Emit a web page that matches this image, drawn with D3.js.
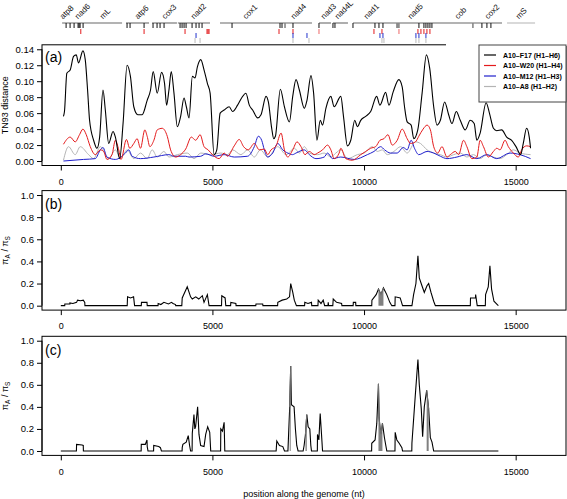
<!DOCTYPE html>
<html><head><meta charset="utf-8">
<script src="https://cdn.jsdelivr.net/npm/d3@7"></script>
<style>body{margin:0;background:#fff}svg{display:block;font-family:"Liberation Sans",Arial,Helvetica,sans-serif}</style>
</head><body><svg id="c" width="567" height="499"></svg>
<script>
// ---------- data ----------
const xTicks = [0, 5000, 10000, 15000];
const distTicks = [0, 0.02, 0.04, 0.06, 0.08, 0.10, 0.12, 0.14];
const ratioTicks = [0, 0.2, 0.4, 0.6, 0.8, 1.0];
const seriesNames = ["A10\u2013F17 (H1\u2013H6)", "A10\u2013W20 (H1\u2013H4)", "A10\u2013M12 (H1\u2013H3)", "A10\u2013A8 (H1\u2013H2)"];
const seriesColors = ["#000000", "#e31a1c", "#1f1fcc", "#b4b4b4"];

const f17 = [[88,0.056],[121,0.062],[199,0.110],[309,0.114],[420,0.131],[508,0.133],[585,0.123],[729,0.138],[806,0.127],[883,0.089],[949,0.051],[1082,0.026],[1192,0.016],[1281,0.030],[1391,0.089],[1468,0.064],[1579,0.022],[1722,0.037],[1800,0.030],[1943,0.003],[2053,0.047],[2186,0.120],[2296,0.106],[2407,0.068],[2539,0.058],[2683,0.058],[2848,0.076],[2959,0.089],[3047,0.112],[3180,0.085],[3323,0.111],[3422,0.097],[3489,0.070],[3566,0.089],[3643,0.112],[3732,0.085],[3842,0.043],[3952,0.056],[4063,0.079],[4140,0.068],[4228,0.054],[4339,0.106],[4427,0.104],[4504,0.118],[4615,0.127],[4725,0.114],[4836,0.097],[4924,0.085],[5056,0.008],[5144,0.014],[5255,0.060],[5388,0.064],[5553,0.068],[5664,0.062],[5829,0.070],[5962,0.079],[6105,0.085],[6216,0.070],[6326,0.064],[6492,0.054],[6602,0.058],[6768,0.081],[6845,0.074],[6955,0.041],[7021,0.028],[7077,0.031],[7240,0.090],[7374,0.068],[7539,0.049],[7648,0.081],[7757,0.102],[7867,0.089],[8031,0.066],[8118,0.076],[8250,0.107],[8337,0.085],[8447,0.026],[8556,0.051],[8633,0.045],[8742,0.066],[8906,0.081],[9015,0.068],[9234,0.081],[9322,0.056],[9453,0.019],[9562,0.026],[9694,0.051],[9781,0.043],[9891,0.051],[10055,0.056],[10219,0.062],[10416,0.081],[10525,0.070],[10711,0.086],[10821,0.070],[10963,0.087],[11149,0.102],[11258,0.093],[11335,0.068],[11422,0.049],[11553,0.045],[11641,0.028],[11772,0.039],[11915,0.085],[12057,0.133],[12166,0.116],[12297,0.068],[12407,0.045],[12516,0.051],[12658,0.074],[12790,0.058],[12899,0.047],[13041,0.062],[13173,0.051],[13337,0.039],[13501,0.051],[13632,0.047],[13720,0.026],[13829,0.035],[14026,0.073],[14135,0.060],[14267,0.041],[14376,0.038],[14540,0.039],[14704,0.030],[14868,0.026],[15011,0.018],[15164,0.008],[15251,0.022],[15361,0.041],[15448,0.030],[15492,0.016]];

const w20 = [[88,0.021],[309,0.030],[475,0.024],[618,0.033],[729,0.040],[839,0.033],[972,0.018],[1137,0.008],[1303,0.014],[1413,0.012],[1524,0.002],[1689,0.008],[1800,0.026],[1910,0.014],[1987,0.002],[2164,0.027],[2274,0.016],[2407,0.022],[2517,0.028],[2628,0.016],[2771,0.039],[2848,0.031],[2937,0.018],[3069,0.026],[3180,0.039],[3345,0.041],[3511,0.031],[3621,0.014],[3787,0.005],[3952,0.008],[4118,0.015],[4306,0.030],[4449,0.026],[4593,0.033],[4725,0.018],[4858,0.014],[5001,0.008],[5222,0.003],[5388,0.010],[5498,0.006],[5719,0.019],[5884,0.027],[6028,0.018],[6182,0.014],[6381,0.022],[6547,0.014],[6712,0.015],[6823,0.008],[6933,0.014],[7099,0.019],[7265,0.035],[7374,0.014],[7484,0.005],[7648,0.014],[7790,0.024],[7921,0.018],[8053,0.008],[8195,0.012],[8359,0.008],[8468,0.010],[8633,0.014],[8797,0.020],[8906,0.014],[9015,0.003],[9179,0.010],[9234,0.016],[9398,0.003],[9617,0.001],[9891,0.008],[10055,0.012],[10219,0.016],[10383,0.018],[10525,0.026],[10656,0.028],[10788,0.033],[10930,0.020],[11094,0.026],[11258,0.040],[11422,0.028],[11532,0.022],[11696,0.024],[11805,0.031],[11947,0.040],[12079,0.045],[12188,0.039],[12297,0.018],[12429,0.010],[12571,0.018],[12735,0.005],[12844,0.008],[13009,0.012],[13118,0.008],[13282,0.026],[13391,0.018],[13556,0.003],[13720,0.005],[13829,0.026],[13938,0.018],[14102,0.005],[14267,0.012],[14376,0.016],[14485,0.014],[14650,0.026],[14759,0.018],[14923,0.010],[15087,0.005],[15197,0.014],[15361,0.019],[15492,0.018]];

const m12 = [[88,0.000],[750,0.002],[1137,0.003],[1303,0.014],[1391,0.017],[1523,0.005],[1800,0.002],[2131,0.010],[2241,0.014],[2352,0.006],[2628,0.003],[3069,0.005],[3566,0.008],[3732,0.006],[4118,0.006],[4228,0.005],[4615,0.006],[4780,0.009],[5056,0.006],[5388,0.008],[5719,0.005],[6160,0.006],[6381,0.018],[6514,0.031],[6624,0.026],[6712,0.014],[6823,0.005],[6988,0.010],[7154,0.022],[7320,0.014],[7485,0.010],[7640,0.008],[7757,0.010],[8031,0.014],[8195,0.008],[8414,0.003],[8687,0.005],[8797,0.010],[8961,0.003],[9234,0.005],[9672,0.002],[10109,0.008],[10328,0.012],[10547,0.018],[10678,0.014],[10875,0.010],[11094,0.010],[11291,0.017],[11422,0.014],[11553,0.026],[11663,0.016],[11805,0.008],[12079,0.012],[12297,0.010],[12516,0.006],[12735,0.003],[13063,0.005],[13391,0.008],[13720,0.003],[14048,0.008],[14376,0.003],[14814,0.010],[15142,0.008],[15492,0.003]];

const a8 = [[88,0.001],[254,0.018],[475,0.008],[640,0.018],[916,0.008],[1082,0.003],[1303,0.018],[1579,0.003],[1800,0.014],[1965,0.003],[2186,0.014],[2407,0.003],[2628,0.010],[2848,0.003],[3014,0.014],[3180,0.005],[3400,0.012],[3566,0.005],[3842,0.008],[4173,0.010],[4394,0.003],[4615,0.010],[4946,0.008],[5277,0.010],[5498,0.008],[5664,0.014],[5940,0.008],[6160,0.014],[6381,0.005],[6580,0.014],[6823,0.005],[7154,0.018],[7430,0.008],[7703,0.016],[7867,0.010],[8031,0.018],[8195,0.010],[8468,0.008],[8687,0.010],[8906,0.005],[9070,0.010],[9234,0.014],[9453,0.003],[9781,0.008],[10000,0.010],[10274,0.018],[10438,0.012],[10602,0.014],[10766,0.008],[10985,0.012],[11204,0.018],[11422,0.010],[11696,0.024],[11860,0.022],[12079,0.014],[12297,0.010],[12516,0.008],[12735,0.005],[12954,0.008],[13173,0.010],[13391,0.005],[13610,0.008],[13829,0.003],[14048,0.008],[14267,0.005],[14486,0.003],[14704,0.008],[14923,0.014],[15142,0.010],[15492,0.008]];

const ratioB = [[0,0],[130,0],[133,0.015],[300,0.015],[300,0.025],[400,0.02],[520,0.03],[553,0.05],[650,0.045],[741,0.05],[790,0.03],[796,0],[2190,0],[2201,0.08],[2300,0.07],[2400,0.08],[2433,0],[2654,0],[2660,0.03],[2842,0.03],[2850,0],[3207,0],[3210,0.02],[3300,0.01],[3400,0.03],[3550,0.015],[3650,0.03],[3700,0.02],[3783,0.01],[3790,0],[3990,0],[4004,0.07],[4170,0.17],[4280,0.08],[4336,0.06],[4450,0.08],[4550,0.06],[4667,0.09],[4723,0.03],[4833,0.10],[4889,0],[5300,0],[5309,0.09],[5419,0.07],[5441,0],[5600,0],[5607,0.03],[5773,0.02],[5780,0],[6430,0],[6437,0.015],[6658,0.015],[6665,0],[7150,0],[7156,0.03],[7300,0.05],[7450,0.06],[7543,0.08],[7582,0.20],[7650,0.12],[7700,0.05],[7770,0],[8040,0],[8046,0.03],[8150,0.02],[8267,0.03],[8275,0],[8480,0],[8488,0.05],[8580,0.02],[8653,0.05],[8700,0],[8810,0],[8819,0.03],[8830,0],[8970,0],[8984,0.06],[9095,0.03],[9260,0.02],[9270,0],[9640,0],[9647,0.03],[9724,0.03],[9730,0],[10254,0],[10260,0.05],[10400,0.1],[10475,0.15],[10560,0.10],[10640,0.16],[10750,0.10],[10850,0.03],[10916,0],[11020,0],[11027,0.08],[11192,0.07],[11270,0],[11580,0],[11634,0.1],[11711,0.2],[11777,0.45],[11822,0.25],[11910,0.18],[11987,0.12],[12076,0.18],[12131,0.2],[12208,0.12],[12296,0.04],[12352,0],[13505,0],[13511,0.07],[13676,0.07],[13680,0.1],[13732,0],[14000,0],[14008,0.1],[14096,0.17],[14151,0.36],[14206,0.15],[14284,0.04],[14394,0.01],[14430,0]];

const ratioC = [[0,0],[515,0],[520,0.06],[700,0.055],[741,0.05],[745,0],[2650,0],[2654,0.06],[2787,0.06],[2842,0.1],[2850,0.04],[2876,0],[3060,0],[3064,0.05],[3230,0.04],[3285,0.03],[3318,0],[4000,0],[4004,0.03],[4026,0.06],[4136,0.08],[4203,0.14],[4247,0.05],[4280,0],[4330,0],[4336,0.16],[4391,0.33],[4420,0.20],[4446,0.22],[4512,0.40],[4557,0.15],[4612,0.05],[4723,0.04],[4778,0.15],[4844,0.22],[4911,0.17],[4944,0],[5270,0],[5276,0.20],[5331,0.18],[5386,0.26],[5408,0],[7101,0],[7123,0.09],[7211,0.05],[7322,0.04],[7377,0],[7490,0],[7549,0.40],[7582,0.77],[7604,0.42],[7693,0.40],[7737,0.20],[7781,0.05],[7825,0],[7991,0],[8024,0.05],[8068,0.15],[8112,0.33],[8156,0.22],[8212,0.20],[8245,0.05],[8267,0],[8460,0],[8465,0.15],[8510,0.10],[8554,0.34],[8598,0.15],[8631,0],[10250,0],[10254,0.07],[10364,0.10],[10420,0.25],[10475,0.61],[10497,0.30],[10530,0.20],[10563,0.15],[10607,0.25],[10673,0.12],[10718,0.05],[10751,0],[11020,0],[11027,0.17],[11082,0.10],[11159,0.07],[11248,0.03],[11270,0],[11575,0],[11579,0.07],[11689,0.50],[11777,0.83],[11822,0.60],[11888,0.38],[11932,0.13],[11987,0.40],[12065,0.55],[12131,0.38],[12186,0.12],[12241,0.08],[12296,0],[14430,0]];

const grayRangesB = [[10470, 10645]];
const grayRangesC = [[7540, 7600], [8060, 8120], [10470, 10660], [11680, 11760], [12050, 12140]];

// gene map
const geneSegments = [[43,2020],[2150,2910],[3010,3830],[3860,4920],[5250,8283],[8514,8910],[8975,9470],[9635,14550]];
const geneSegmentsLight = [[14715,15640]];
const geneNames = ["atp8","nad6","mL","atp6","cox3","nad2","cox1","nad4","nad3","nad4L","nad1","nad5","cob","cox2","mS"];
const geneLabelPos = [43,537,1361,2515,3405,4361,6075,7657,8646,9107,10063,11513,13062,14052,15074];
const blackTicks = [175,306,438,570,603,636,735,2185,2284,2746,3042,3174,3273,3405,3933,3999,4065,4131,4329,4460,4559,4658,5647,7229,7295,7657,8514,8975,9041,9635,10360,10492,10624,11810,11975,12041,12107,12173,12239,13887,14052,14184];
const grayTicks = [7394,11085,11118,11151,13590];
const redMarks = [659,2746,4097,4822,4855,4888,7196,7657,10327,10591,11777,11876,11975,12074,12173];
const pinkMarks = [8514,11151];
const blueMarks = [4460,7657,8118,10525,10624,11711,11810,12041];
const grayMarks = [4427,4592,7657,8184,10591,10657,11711,11810,12041];

// ---------- drawing ----------
const svg = d3.select("#c");
const x = d3.scaleLinear().domain([-620, 16660]).range([42, 566]);
const FONT = "Liberation Sans, Arial, Helvetica, sans-serif";

// gene track
const g0 = svg.append("g");
const trackY = 23;
geneSegments.forEach(s => g0.append("line").attr("x1", x(s[0])).attr("x2", x(s[1])).attr("y1", trackY).attr("y2", trackY).attr("stroke", "#9a9a9a").attr("stroke-width", 1.6));
geneSegmentsLight.forEach(s => g0.append("line").attr("x1", x(s[0])).attr("x2", x(s[1])).attr("y1", trackY).attr("y2", trackY).attr("stroke", "#d0d0d0").attr("stroke-width", 1.6));
function marks(arr, y1, y2, color, w) {
  arr.forEach(p => g0.append("line").attr("x1", x(p)).attr("x2", x(p)).attr("y1", y1).attr("y2", y2).attr("stroke", color).attr("stroke-width", w));
}
marks(blackTicks, trackY, trackY + 5, "#111", 1);
marks(grayTicks, trackY, trackY + 5, "#888", 1.6);
marks(redMarks, trackY + 6, trackY + 11, "#e31a1c", 1);
marks(pinkMarks, trackY + 6, trackY + 11, "#f08080", 1.2);
marks(blueMarks, trackY + 10, trackY + 15, "#2233cc", 1);
marks(grayMarks, trackY + 15, trackY + 20, "#bbbbbb", 1);
geneNames.forEach((n, i) => {
  g0.append("text").attr("transform", `translate(${x(geneLabelPos[i]) + 1},19.5) rotate(-45)`)
    .attr("font-size", 8).attr("font-family", FONT).attr("fill", "#111").text(n);
});

// panels
const panels = [
  {label: "(a)", top: 44.8, bottom: 165.5, domain: [-0.0056, 0.1456], ticks: distTicks, fmt: ".2f", title: "TN93 distance", labY: 62, xlabY: 182},
  {label: "(b)", top: 190.6, bottom: 310.1, domain: [-0.04, 1.04], ticks: ratioTicks, fmt: ".1f", title: null, labY: 209, xlabY: 327},
  {label: "(c)", top: 336.3, bottom: 455.4, domain: [-0.04, 1.04], ticks: ratioTicks, fmt: ".1f", title: null, labY: 355, xlabY: 472}
];

panels.forEach((p, pi) => {
  const y = d3.scaleLinear().domain(p.domain).range([p.bottom, p.top]);
  const g = svg.append("g");
  const clipId = "clip" + pi;
  svg.append("clipPath").attr("id", clipId).append("rect").attr("x", 42).attr("y", p.top).attr("width", 524).attr("height", p.bottom - p.top);
  const gd = g.append("g").attr("clip-path", `url(#${clipId})`);

  if (pi === 0) {
    const series = [a8, m12, w20, f17];
    const cols = [seriesColors[3], seriesColors[2], seriesColors[1], seriesColors[0]];
    const widths = [1.0, 1.0, 1.0, 1.1];
    const line = d3.line().x(d => x(d[0])).y(d => y(d[1])).curve(d3.curveMonotoneX);
    series.forEach((s, i) => gd.append("path").datum(s).attr("d", line).attr("fill", "none").attr("stroke", cols[i]).attr("stroke-width", widths[i]));
  } else {
    const data = pi === 1 ? ratioB : ratioC;
    const ranges = pi === 1 ? grayRangesB : grayRangesC;
    const line = d3.line().x(d => x(d[0])).y(d => y(d[1]));
    const area = d3.area().x(d => x(d[0])).y0(y(0)).y1(d => y(d[1]));
    gd.append("path").datum(data).attr("d", line).attr("fill", "none").attr("stroke", "#000").attr("stroke-width", 1.1);
    ranges.forEach(r => {
      const sub = data.filter(d => d[0] >= r[0] && d[0] <= r[1]);
      gd.append("path").datum(sub).attr("d", area).attr("fill", "#808080");
      gd.append("path").datum(sub).attr("d", line).attr("fill", "none").attr("stroke", "#707070").attr("stroke-width", 1.1);
    });
  }

  // box
  g.append("rect").attr("x", 42).attr("y", p.top).attr("width", 524).attr("height", p.bottom - p.top).attr("fill", "none").attr("stroke", "#000").attr("stroke-width", 1);

  // y axis
  const ya = d3.axisLeft(y).tickValues(p.ticks).tickFormat(d3.format(p.fmt)).tickSize(5).tickPadding(3).tickSizeOuter(0);
  const yg = g.append("g").attr("transform", "translate(42,0)").call(ya);
  yg.select(".domain").remove();
  yg.append("line").attr("x1", 0).attr("x2", 0).attr("y1", y(p.ticks[0])).attr("y2", y(p.ticks[p.ticks.length - 1])).attr("stroke", "#000");
  yg.selectAll("text").attr("font-size", 9.5).attr("font-family", FONT).attr("fill", "#000");

  // x axis
  const xa = d3.axisBottom(x).tickValues(xTicks).tickFormat(d3.format("d")).tickSize(5).tickPadding(8).tickSizeOuter(0);
  const xg = g.append("g").attr("transform", `translate(0,${p.bottom})`).call(xa);
  xg.select(".domain").remove();
  xg.selectAll("text").attr("font-size", 9).attr("font-family", FONT).attr("fill", "#000");

  // panel label
  g.append("text").attr("x", 45).attr("y", p.labY).attr("font-size", 14).attr("font-family", FONT).text(p.label);

  // y title
  const cy = (p.top + p.bottom) / 2;
  const t = g.append("text").attr("transform", `translate(8,${cy}) rotate(-90)`).attr("text-anchor", "middle").attr("font-size", 9).attr("font-family", FONT);
  if (p.title) t.text(p.title);
  else {
    t.append("tspan").text("\u03c0");
    t.append("tspan").attr("font-size", 6.5).attr("dy", 2).text("A");
    t.append("tspan").attr("dy", -2).text(" / \u03c0");
    t.append("tspan").attr("font-size", 6.5).attr("dy", 2).text("S");
  }
});

// hide part of panel (a) top border (legend region) and draw legend
svg.append("rect").attr("x", 446).attr("y", 42).attr("width", 121).attr("height", 4).attr("fill", "#fff");
const lg = svg.append("g");
lg.append("rect").attr("x", 479).attr("y", 45).attr("width", 87).attr("height", 57).attr("fill", "#fff").attr("stroke", "#444").attr("stroke-width", 1);
seriesNames.forEach((n, i) => {
  const yy = 55 + i * 10.5;
  lg.append("line").attr("x1", 484).attr("x2", 496).attr("y1", yy).attr("y2", yy).attr("stroke", seriesColors[i]).attr("stroke-width", 1.2);
  lg.append("text").attr("x", 503).attr("y", yy + 2.5).attr("font-size", 7).attr("font-weight", "bold").attr("font-family", FONT).text(n);
});

// x title
svg.append("text").attr("x", 304).attr("y", 497).attr("text-anchor", "middle").attr("font-size", 9).attr("font-family", FONT).text("position along the genome (nt)");
</script>
</body></html>
